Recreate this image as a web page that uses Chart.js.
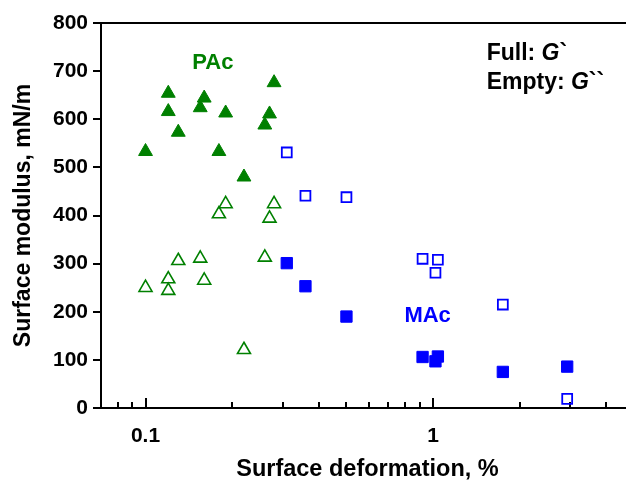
<!DOCTYPE html>
<html>
<head>
<meta charset="utf-8">
<script src="https://cdn.jsdelivr.net/npm/chart.js@4/dist/chart.umd.min.js"></script>
<style>
  html, body { margin: 0; padding: 0; background: #fff; overflow: hidden; }
  canvas { display: block; }
</style>
</head>
<body>
<canvas id="modulusChart" width="643" height="486"></canvas>
<script>
// PAc: deformation (%) with storage G` and loss G`` moduli (mN/m)
const pacX       = [0.10, 0.12, 0.12, 0.13, 0.155, 0.16, 0.18, 0.19, 0.22, 0.26, 0.27, 0.28];
const pacStorage = [533, 654, 616, 573, 624, 644, 533, 613, 480, 588, 611, 676];
const pacLoss    = [250, 268, 244, 306, 311, 265, 403, 424, 121, 313, 394, 424];

// MAc
const macX       = [0.31, 0.36, 0.50, 0.92, 1.02, 1.04, 1.75, 2.93];
const macStorage = [301, 253, 190, 106, 97, 107, 75, 86];
const macLoss    = [531, 441, 438, 310, 281, 308, 215, 19];

// axis ticks
const xTicks = [0.08, 0.09, 0.1, 0.2, 0.3, 0.4, 0.5, 0.6, 0.7, 0.8, 0.9, 1, 2, 3, 4, 5];
const xMajor = [0.1, 1];
const xMin = 0.07, xMax = 5;
const yMin = 0, yMax = 800, yStep = 100;

const GREEN = "#008000";
const BLUE = "#0000ff";
const FONT = "'Liberation Sans', Arial, sans-serif";

function points(xs, ys) {
  return xs.map((x, i) => ({ x: x, y: ys[i] }));
}

// series labels and the filled/empty key
const notes = {
  id: "notes",
  afterDraw(chart) {
    const { ctx, chartArea, scales } = chart;
    const x = scales.x, y = scales.y;
    ctx.save();
    // top frame line
    ctx.strokeStyle = "#000";
    ctx.lineWidth = 2;
    ctx.beginPath();
    ctx.moveTo(chartArea.left - 1, chartArea.top);
    ctx.lineTo(chartArea.right, chartArea.top);
    ctx.stroke();

    ctx.textBaseline = "middle";
    ctx.textAlign = "center";
    ctx.font = "bold 22px " + FONT;
    ctx.fillStyle = GREEN;
    ctx.fillText("PAc", x.getPixelForValue(0.1714), y.getPixelForValue(716));
    ctx.fillStyle = BLUE;
    ctx.fillText("MAc", x.getPixelForValue(0.958), y.getPixelForValue(192));

    ctx.textAlign = "left";
    ctx.fillStyle = "#000";
    const key = [["Full: ", "`", 736], ["Empty: ", "``", 677]];
    key.forEach(([head, tail, v]) => {
      let px = x.getPixelForValue(1.537);
      const py = y.getPixelForValue(v);
      ctx.font = "bold 23px " + FONT;
      ctx.fillText(head, px, py);
      px += ctx.measureText(head).width;
      ctx.font = "italic bold 23px " + FONT;
      ctx.fillText("G", px, py);
      px += ctx.measureText("G").width;
      ctx.font = "bold 23px " + FONT;
      ctx.fillText(tail, px, py);
    });
    ctx.restore();
  }
};

new Chart(document.getElementById("modulusChart"), {
  type: "scatter",
  data: {
    datasets: [
      {
        label: "PAc G`",
        data: points(pacX, pacStorage),
        pointStyle: "triangle",
        pointRadius: 8,
        backgroundColor: GREEN,
        borderColor: GREEN,
        borderWidth: 1
      },
      {
        label: "PAc G``",
        data: points(pacX, pacLoss),
        pointStyle: "triangle",
        pointRadius: 7.5,
        backgroundColor: "rgba(255,255,255,0)",
        borderColor: GREEN,
        borderWidth: 1.6
      },
      {
        label: "MAc G`",
        data: points(macX, macStorage),
        pointStyle: "rect",
        pointRadius: 8,
        backgroundColor: BLUE,
        borderColor: BLUE,
        borderWidth: 1
      },
      {
        label: "MAc G``",
        data: points(macX, macLoss),
        pointStyle: "rect",
        pointRadius: 7,
        backgroundColor: "rgba(255,255,255,0)",
        borderColor: BLUE,
        borderWidth: 1.8
      }
    ]
  },
  options: {
    responsive: false,
    animation: false,
    layout: { padding: { top: 23, left: 0, right: 0, bottom: 0 } },
    plugins: {
      legend: { display: false },
      tooltip: { enabled: false }
    },
    scales: {
      x: {
        type: "logarithmic",
        min: xMin,
        max: xMax,
        afterBuildTicks: (scale) => {
          scale.ticks = xTicks.map(v => ({ value: v, major: xMajor.includes(v) }));
        },
        afterFit: (scale) => {
          scale.height = 78;
          scale.paddingLeft = 0;
          scale.paddingRight = 0;
        },
        border: { color: "#000", width: 2 },
        grid: {
          drawOnChartArea: false,
          tickLength: -10,
          tickColor: "#000",
          lineWidth: 2,
          tickBorderDash: (ctx) => xMajor.includes(ctx.tick && ctx.tick.value) ? [] : [7, 40]
        },
        ticks: {
          autoSkip: false,
          maxRotation: 0,
          padding: 26,
          color: "#000",
          font: { size: 21, weight: "bold", family: FONT },
          callback: (v) => xMajor.includes(v) ? String(v) : ""
        },
        title: {
          display: true,
          text: "Surface deformation, %",
          color: "#000",
          font: { size: 23.5, weight: "bold", family: FONT },
          padding: { top: 0, bottom: 2 }
        }
      },
      y: {
        min: yMin,
        max: yMax,
        afterFit: (scale) => { scale.width = 101; },
        border: { color: "#000", width: 2 },
        grid: {
          drawOnChartArea: false,
          tickLength: 8,
          tickColor: "#000",
          lineWidth: 2
        },
        ticks: {
          stepSize: yStep,
          padding: 5,
          color: "#000",
          font: { size: 21, weight: "bold", family: FONT }
        },
        title: {
          display: true,
          text: "Surface modulus, mN/m",
          color: "#000",
          font: { size: 23, weight: "bold", family: FONT },
          padding: { top: 10, bottom: 0 }
        }
      }
    }
  },
  plugins: [notes]
});
</script>
</body>
</html>
